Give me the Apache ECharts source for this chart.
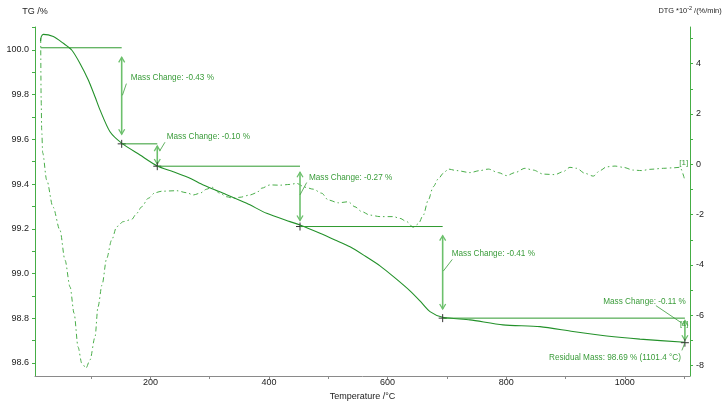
<!DOCTYPE html>
<html>
<head>
<meta charset="utf-8">
<script src="https://cdn.jsdelivr.net/npm/echarts@6/dist/echarts.min.js"></script>
<style>
html,body{margin:0;padding:0;background:#fff;}
#chart{width:722px;height:401px;}
</style>
</head>
<body>
<div id="chart"></div>
<script>
// ---------- DATA ----------
const tempTG = [14.8, 16.0, 19.4, 36.3, 53.1, 67.3, 81.3, 95.3, 106.6, 115.0, 131.9, 151.6, 182.5, 211.6, 238.6, 266.8, 289.2, 322.9, 362.4, 396.1, 435.4, 452.3, 486.0, 511.3, 536.6, 561.9, 587.2, 612.5, 637.8, 654.6, 671.5, 692.9, 739.0, 794.6, 857.0, 912.6, 969.5, 1025.6, 1101.4];
const massTG = [100.04, 100.06, 100.07, 100.06, 100.03, 100.00, 99.94, 99.866, 99.791, 99.732, 99.634, 99.583, 99.530, 99.481, 99.455, 99.426, 99.396, 99.359, 99.314, 99.269, 99.232, 99.217, 99.180, 99.150, 99.119, 99.078, 99.034, 98.980, 98.922, 98.877, 98.829, 98.804, 98.792, 98.770, 98.762, 98.740, 98.720, 98.706, 98.692];

const tempDTG = [15.0, 15.8, 16.7, 18.4, 25.1, 35.8, 47.5, 56.0, 64.6, 71.3, 78.1, 84.2, 91.4, 98.1, 106.6, 111.6, 118.4, 126.3, 134.7, 143.2, 154.3, 168.5, 176.9, 185.3, 196.5, 207.8, 219.1, 244.4, 261.2, 272.3, 283.6, 294.9, 303.4, 317.4, 328.7, 339.8, 351.1, 368.0, 379.3, 387.7, 401.7, 418.5, 435.4, 446.7, 460.7, 474.7, 488.9, 500.0, 516.9, 533.7, 545.0, 556.3, 570.3, 587.2, 609.6, 620.9, 632.2, 643.3, 651.8, 660.2, 668.6, 677.1, 685.5, 693.9, 702.4, 716.5, 739.0, 755.8, 769.8, 786.7, 800.8, 814.8, 831.7, 845.7, 862.6, 882.3, 896.3, 907.6, 918.9, 932.9, 946.9, 958.2, 969.5, 983.6, 997.5, 1014.3, 1028.5, 1042.5, 1065.0, 1081.8, 1093.1, 1100.4];
const dtgValues = [5.02, 2.56, 1.36, 0.45, -0.62, -1.70, -2.62, -3.81, -4.88, -5.92, -7.27, -7.90, -8.10, -7.78, -6.87, -5.67, -4.80, -3.74, -3.01, -2.48, -2.28, -2.19, -1.95, -1.69, -1.35, -1.13, -1.07, -1.05, -1.13, -1.22, -1.15, -0.99, -0.91, -1.15, -1.29, -1.35, -1.31, -1.22, -1.13, -0.95, -0.82, -0.83, -0.80, -0.76, -0.91, -0.99, -1.15, -1.42, -1.53, -1.49, -1.69, -1.88, -2.02, -2.08, -2.08, -2.15, -2.28, -2.50, -2.37, -2.02, -1.42, -0.89, -0.58, -0.36, -0.19, -0.25, -0.33, -0.25, -0.19, -0.33, -0.45, -0.33, -0.16, -0.23, -0.39, -0.41, -0.29, -0.12, -0.16, -0.36, -0.47, -0.25, -0.10, -0.07, -0.12, -0.23, -0.25, -0.20, -0.16, -0.14, -0.12, -0.56];

// mass-change steps
const stepStartT = [15, 151.6, 211.6, 452.3, 692.9];
const stepEndT   = [151.6, 211.6, 452.3, 692.9, 1101.4];
const stepLevel  = [100.01, 99.58, 99.48, 99.21, 98.80];
const stepNext   = [99.58, 99.48, 99.21, 98.80, 98.69];
const stepLabels = ['Mass Change: -0.43 %', 'Mass Change: -0.10 %', 'Mass Change: -0.27 %', 'Mass Change: -0.41 %', 'Mass Change: -0.11 %'];
const residualPoint = [1101.4, 98.69];
const residualLabel = 'Residual Mass: 98.69 % (1101.4 °C)';
const curveTag = '[1]';

// axis ticks / labels
const xTicks = [100, 200, 300, 400, 500, 600, 700, 800, 900, 1000, 1100];
const xLabels = [200, 400, 600, 800, 1000];
const tgTicks = [98.6, 98.7, 98.8, 98.9, 99.0, 99.1, 99.2, 99.3, 99.4, 99.5, 99.6, 99.7, 99.8, 99.9, 100.0, 100.1];
const tgLabels = [98.6, 98.8, 99.0, 99.2, 99.4, 99.6, 99.8, 100.0];
const dtgTicks = [-8, -7, -6, -5, -4, -3, -2, -1, 0, 1, 2, 3, 4, 5];
const dtgLabels = [-8, -6, -4, -2, 0, 2, 4];

// ---------- STYLE ----------
const FONT = '"Liberation Sans", Arial, sans-serif';
const AXIS_GREEN = '#45ad45';
const TG_C = '#23912a';
const DTG_C = '#4aae4a';
const LINE_C = '#2f9a2f';
const ARROW_C = '#6cc06c';
const TEXT_C = '#3a9c3a';
const ANN_FONT = '8.2px ' + FONT;

// label layout offsets (pixels, relative to arrow x / arrow middle)
const stepLayout = [
  {dx: 9, dy: -18, align: 'left', sx: 0.7, sy: -0.5, ex: 4.7, ey: -12.2},
  {dx: 9.4, dy: -17.8, align: 'left', sx: 2.7, sy: -4.5, ex: 7.7, ey: -12.8},
  {dx: 9, dy: -18.8, align: 'left', sx: 0, sy: -1.5, ex: 6.7, ey: -13.8},
  {dx: 9, dy: -18.5, align: 'left', sx: 0.6, sy: -1.2, ex: 9.6, ey: -12.9},
  {dx: 1, dy: -29, align: 'right', sx: -2.3, sy: -6.8, ex: -29, ey: -24.8}
];

function renderStep(params, api) {
  const i = params.dataIndex;
  const a = api.coord([api.value(0), api.value(2)]);
  const b = api.coord([api.value(1), api.value(2)]);
  const c = api.coord([api.value(1), api.value(3)]);
  const x = b[0], ya = b[1], yb = c[1];
  const ins = (yb - ya) * 0.1;
  const top = ya + ins, bot = yb - ins;
  const mid = (ya + yb) / 2;
  const L = stepLayout[i];
  const hl = 5;
  return {
    type: 'group',
    children: [
      {type: 'line', shape: {x1: a[0], y1: a[1], x2: b[0], y2: b[1]}, style: {stroke: LINE_C, lineWidth: 1}},
      {type: 'line', shape: {x1: x, y1: top, x2: x, y2: bot}, style: {stroke: ARROW_C, lineWidth: 1.6}},
      {type: 'polyline', shape: {points: [[x - 3, top + hl], [x, top], [x + 3, top + hl]]}, style: {stroke: ARROW_C, lineWidth: 1.3, fill: 'none'}},
      {type: 'polyline', shape: {points: [[x - 3, bot - hl], [x, bot], [x + 3, bot - hl]]}, style: {stroke: ARROW_C, lineWidth: 1.3, fill: 'none'}},
      {type: 'line', shape: {x1: x + L.sx, y1: mid + L.sy, x2: x + L.ex, y2: mid + L.ey}, style: {stroke: TEXT_C, lineWidth: 0.8}},
      {type: 'text', x: x + L.dx, y: mid + L.dy, style: {text: stepLabels[i], fill: TEXT_C, font: ANN_FONT, align: L.align, verticalAlign: 'middle'}},
      {type: 'line', shape: {x1: c[0] - 4, y1: c[1], x2: c[0] + 4, y2: c[1]}, style: {stroke: '#333', lineWidth: 1}},
      {type: 'line', shape: {x1: c[0], y1: c[1] - 4, x2: c[0], y2: c[1] + 4}, style: {stroke: '#333', lineWidth: 1}}
    ]
  };
}

function renderResidual(params, api) {
  const p = api.coord([api.value(0), api.value(1)]);
  return {
    type: 'group',
    children: [
      {type: 'line', shape: {x1: p[0] - 3, y1: p[1] + 7.7, x2: p[0], y2: p[1]}, style: {stroke: TEXT_C, lineWidth: 0.8}},
      {type: 'text', x: p[0] - 4, y: p[1] + 14.7, style: {text: residualLabel, fill: TEXT_C, font: ANN_FONT, align: 'right', verticalAlign: 'middle'}},
      {type: 'text', x: p[0] - 0.7, y: p[1] - 19, style: {text: curveTag, fill: TEXT_C, font: '7.5px ' + FONT, align: 'center', verticalAlign: 'middle'}}
    ]
  };
}

function renderTag(params, api) {
  const p = api.coord([api.value(0), api.value(1)]);
  return {
    type: 'text', x: p[0] + 3.8, y: p[1] - 4.5,
    style: {text: curveTag, fill: TEXT_C, font: '8px ' + FONT, align: 'center', verticalAlign: 'middle'}
  };
}

const tgData = tempTG.map((t, i) => [t, massTG[i]]);
const dtgData = tempDTG.map((t, i) => [t, dtgValues[i]]);
const stepData = stepStartT.map((t, i) => [t, stepEndT[i], stepLevel[i], stepNext[i]]);
const lastTagIdx = tempDTG.length - 2;

const chart = echarts.init(document.getElementById('chart'), null, {renderer: 'canvas'});
chart.setOption({
  animation: false,
  backgroundColor: '#fff',
  grid: {left: 35, right: 32, top: 27, bottom: 25, containLabel: false, outerBoundsMode: 'none'},
  xAxis: {
    type: 'value', min: 5.4, max: 1110,
    name: 'Temperature /°C', nameLocation: 'middle', nameGap: 8,
    nameTextStyle: {color: '#222', fontSize: 9, fontFamily: FONT},
    axisLine: {show: true, onZero: false, lineStyle: {color: '#8a8a8a', width: 1}},
    axisTick: {show: true, length: 3, customValues: xTicks, lineStyle: {color: '#8a8a8a'}},
    axisLabel: {customValues: xLabels, color: '#222', fontSize: 9, fontFamily: FONT, margin: 2, formatter: v => String(v)},
    splitLine: {show: false}
  },
  yAxis: [
    {
      type: 'value', min: 98.541, max: 100.103, position: 'left',
      name: 'TG /%', nameLocation: 'end', nameGap: 11,
      nameTextStyle: {color: '#222', fontSize: 9, fontFamily: FONT},
      axisLine: {show: true, onZero: false, lineStyle: {color: AXIS_GREEN, width: 1}},
      axisTick: {show: true, length: 3, customValues: tgTicks, lineStyle: {color: AXIS_GREEN}},
      axisLabel: {customValues: tgLabels, color: '#222', fontSize: 9, fontFamily: FONT, margin: 6, formatter: v => v.toFixed(1)},
      splitLine: {show: false}
    },
    {
      type: 'value', min: -8.417, max: 5.459, position: 'right',
      name: 'DTG *10{sup|-2} /(%/min)', nameLocation: 'end', nameGap: 11,
      nameTextStyle: {color: '#222', fontSize: 7.4, fontFamily: FONT, align: 'center',
        rich: {sup: {fontSize: 5.5, fontFamily: FONT, color: '#222', padding: [0, 0, 5, 0]}}},
      axisLine: {show: true, onZero: false, lineStyle: {color: AXIS_GREEN, width: 1}},
      axisTick: {show: true, length: 3, customValues: dtgTicks, lineStyle: {color: AXIS_GREEN}},
      axisLabel: {customValues: dtgLabels, color: '#222', fontSize: 9, fontFamily: FONT, margin: 6},
      splitLine: {show: false}
    }
  ],
  series: [
    {
      type: 'line', name: 'DTG', xAxisIndex: 0, yAxisIndex: 1, data: dtgData,
      showSymbol: false, smooth: 0.3, smoothMonotone: 'x',
      lineStyle: {color: DTG_C, width: 1, type: [5, 3, 1.5, 3]}, z: 2
    },
    {
      type: 'line', name: 'TG', xAxisIndex: 0, yAxisIndex: 0, data: tgData,
      showSymbol: false, smooth: 0.25,
      lineStyle: {color: TG_C, width: 1.1}, z: 3
    },
    {
      type: 'custom', name: 'steps', xAxisIndex: 0, yAxisIndex: 0, data: stepData,
      encode: {x: [0, 1], y: [2, 3]}, renderItem: renderStep, clip: false, z: 4, silent: true
    },
    {
      type: 'custom', name: 'residual', xAxisIndex: 0, yAxisIndex: 0, data: [residualPoint],
      encode: {x: 0, y: 1}, renderItem: renderResidual, clip: false, z: 4, silent: true
    },
    {
      type: 'custom', name: 'tag', xAxisIndex: 0, yAxisIndex: 1, data: [dtgData[lastTagIdx]],
      encode: {x: 0, y: 1}, renderItem: renderTag, clip: false, z: 4, silent: true
    }
  ]
});
</script>
</body>
</html>
